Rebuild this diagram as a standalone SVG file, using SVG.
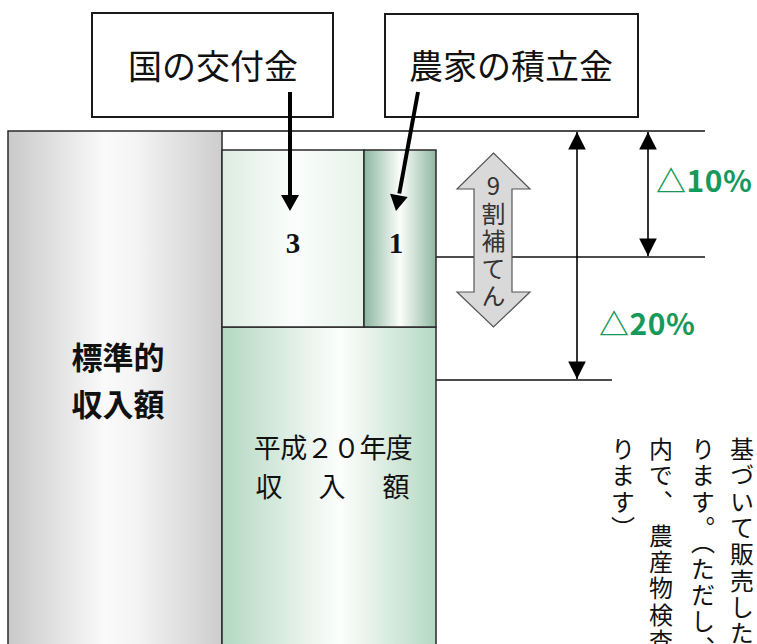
<svg xmlns="http://www.w3.org/2000/svg" width="757" height="644" viewBox="0 0 757 644">
<defs>
<linearGradient id="gGray" x1="0" y1="0" x2="1" y2="0">
<stop offset="0" stop-color="#c9c9c9"/><stop offset="0.45" stop-color="#fafafa"/><stop offset="0.6" stop-color="#f4f4f4"/><stop offset="1" stop-color="#cdcdcd"/>
</linearGradient>
<linearGradient id="gPale" x1="0" y1="0" x2="1" y2="0">
<stop offset="0" stop-color="#dcede2"/><stop offset="0.5" stop-color="#fbfdfc"/><stop offset="1" stop-color="#e6f2ea"/>
</linearGradient>
<linearGradient id="gDark" x1="0" y1="0" x2="1" y2="0">
<stop offset="0" stop-color="#8cb79e"/><stop offset="0.5" stop-color="#fbfdfc"/><stop offset="1" stop-color="#8fb8a0"/>
</linearGradient>
<linearGradient id="gMid" x1="0" y1="0" x2="1" y2="0">
<stop offset="0" stop-color="#b3d8c1"/><stop offset="0.55" stop-color="#fdfefd"/><stop offset="1" stop-color="#b5d9c3"/>
</linearGradient>
<marker id="headDim" viewBox="0 0 10 10" refX="10" refY="5" markerWidth="14" markerHeight="11" markerUnits="strokeWidth" orient="auto-start-reverse">
<path d="M0,0 L10,5 L0,10 z" fill="#000"/>
</marker>
</defs>
<style>
.box{fill:#fff;stroke:#1a1a1a;stroke-width:2}
.col{stroke:#2a2a2a;stroke-width:1.5}
.jp{font-family:"Noto Sans CJK JP","Noto Sans CJK SC",sans-serif;fill:#111}
.num{font-family:"Liberation Serif","DejaVu Serif",serif;font-weight:bold;font-size:29px;fill:#111;text-anchor:middle}
.pct{font-family:"Noto Sans CJK JP",sans-serif;font-weight:bold;font-size:30px;fill:#16995a;letter-spacing:0.5px}
.ln{stroke:#111;stroke-width:1.3;fill:none}
.con{stroke:#000;stroke-width:4;fill:none}
.head{fill:#000}
.dim{stroke:#000;stroke-width:1.6;fill:none}
.vt{font-family:"Noto Sans CJK JP",sans-serif;font-size:24px;fill:#111;writing-mode:vertical-rl;letter-spacing:2.3px}
.ar{font-family:"Noto Sans CJK JP",sans-serif;font-size:24px;fill:#333;writing-mode:vertical-rl;text-orientation:upright;letter-spacing:3.5px}
</style>
<g id="guides">
<line class="ln" x1="222" y1="131" x2="705" y2="131"/>
<line class="ln" x1="436" y1="257" x2="705" y2="257"/>
<line class="ln" x1="436" y1="380" x2="612" y2="380"/>
</g>
<g id="standard">
<rect class="col" x="8" y="131" width="214" height="520" fill="url(#gGray)"/>
<text class="jp" font-weight="bold" font-size="31" x="118" y="369" text-anchor="middle">標準的</text>
<text class="jp" font-weight="bold" font-size="31" x="118" y="416" text-anchor="middle">収入額</text>
</g>
<g id="h20">
<rect class="col" x="222" y="327" width="214" height="324" fill="url(#gMid)"/>
<text class="jp" font-size="27" x="333" y="458" text-anchor="middle" letter-spacing="-0.6">平成２０年度</text>
<text class="jp" font-size="27" x="269" y="497" text-anchor="middle">収</text>
<text class="jp" font-size="27" x="332" y="497" text-anchor="middle">入</text>
<text class="jp" font-size="27" x="396" y="497" text-anchor="middle">額</text>
</g>
<g id="kuni">
<rect class="col" x="222" y="150" width="142" height="177" fill="url(#gPale)"/>
<text class="num" x="293" y="253">3</text>
</g>
<g id="noka">
<rect class="col" x="364" y="150" width="72" height="177" fill="url(#gDark)"/>
<text class="num" x="396" y="253">1</text>
</g>
<g id="box-kuni">
<rect class="box" x="92" y="13" width="241" height="104"/>
<text class="jp" font-size="34" x="213" y="79" text-anchor="middle">国の交付金</text>
</g>
<g id="box-noka">
<rect class="box" x="385" y="14" width="253" height="103"/>
<text class="jp" font-size="34" x="511" y="79" text-anchor="middle">農家の積立金</text>
</g>
<g id="hoten">
<polygon points="493.5,153 530,189 512,189 512,292 530,292 493.5,327 457,292 474,292 474,189 457,189" fill="#d9d9d9" stroke="#555" stroke-width="1.2"/>
<text class="ar" x="493.5" y="174">9割補てん</text>
</g>
<g id="connectors">
<line class="con" x1="290" y1="92" x2="290" y2="197"/>
<polygon class="head" points="281,195 299,195 290,211"/>
<line class="con" x1="418" y1="92" x2="399.3" y2="193.5"/>
<polygon class="head" points="407.7,196.9 390.1,193.7 396,211"/>
<line class="dim" x1="577" y1="132" x2="577" y2="379" marker-start="url(#headDim)" marker-end="url(#headDim)"/>
<line class="dim" x1="648" y1="132" x2="648" y2="256" marker-start="url(#headDim)" marker-end="url(#headDim)"/>
</g>
<g id="labels">
<text class="pct" x="656" y="192">△10%</text>
<text class="pct" x="599" y="335">△20%</text>
</g>
<g id="note">
<text class="vt" x="742" y="437">基づいて販売した</text>
<text class="vt" x="703" y="437">ります。（ただし、</text>
<text class="vt" x="661" y="437">内で、 農産物検査</text>
<text class="vt" x="623" y="437">ります）</text>
</g>
</svg>
